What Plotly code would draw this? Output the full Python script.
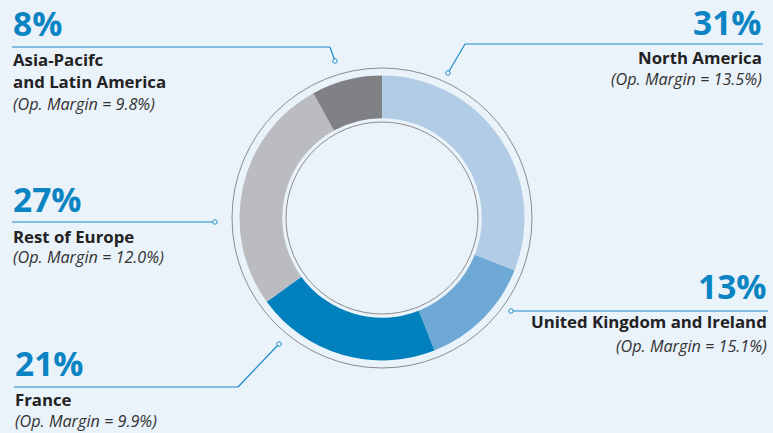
import plotly.graph_objects as go

W, H = 773, 433
regions = ["North America", "United Kingdom and Ireland", "France", "Rest of Europe", "Asia-Pacifc<br>and Latin America"]
shares = [31, 13, 21, 27, 8]
margins = [13.5, 15.1, 9.9, 12.0, 9.8]
colors = ["#b2cce6", "#6ea8d5", "#0081bd", "#bbbcc0", "#7f8185"]

BG = "#eaf2fa"
BLUE = "#0a84c2"
LINE = "#1a8ac8"
DARK = "#222222"
FONT = "Open Sans"

def px(x):
    return x / W

def py(y):
    return 1 - y / H

cx, cy, r_out = 382, 218, 142.5

fig = go.Figure(go.Pie(
    values=shares,
    labels=regions,
    marker=dict(colors=colors, line=dict(width=0)),
    hole=0.70,
    sort=False,
    direction="clockwise",
    rotation=0,
    textinfo="none",
    hoverinfo="label+percent",
    showlegend=False,
    domain=dict(x=[px(cx - r_out), px(cx + r_out)], y=[py(cy + r_out), py(cy - r_out)]),
))

shapes = []
for r in (150, 96):
    shapes.append(dict(type="circle", xref="paper", yref="paper",
                       x0=px(cx - r), x1=px(cx + r), y0=py(cy + r), y1=py(cy - r),
                       line=dict(color="#8c8c8c", width=1)))

leaders = [
    [(763, 44), (465, 44), (448, 73)],      # North America
    [(768, 311), (511, 311)],               # UK & Ireland
    [(14, 387), (238, 387), (279, 344)],    # France
    [(12, 222), (215, 222)],                # Rest of Europe
    [(12, 47), (330, 47), (335, 61)],       # Asia-Pacific
]
for pts in leaders:
    for (x0, y0), (x1, y1) in zip(pts[:-1], pts[1:]):
        shapes.append(dict(type="line", xref="paper", yref="paper",
                           x0=px(x0), y0=py(y0), x1=px(x1), y1=py(y1),
                           line=dict(color=LINE, width=1.2)))
    ex, ey = pts[-1]
    rr = 2.2
    shapes.append(dict(type="circle", xref="paper", yref="paper",
                       x0=px(ex - rr), x1=px(ex + rr), y0=py(ey + rr), y1=py(ey - rr),
                       fillcolor="white", line=dict(color=LINE, width=1)))

annotations = []

def txt(x, yc, text, size, color, anchor, bold=False, italic=False):
    annotations.append(dict(
        x=px(x), y=py(yc), xref="paper", yref="paper",
        xanchor=anchor, yanchor="middle", align=anchor, showarrow=False,
        text=text, borderpad=0,
        font=dict(family=FONT, size=size, color=color,
                  weight="bold" if bold else "normal",
                  style="italic" if italic else "normal"),
    ))

# (x, anchor, pct baseline, name baselines (first, last), italic baseline)
blocks = [
    (763, "right", 34, (64, 64), 85),
    (768, "right", 298, (328, 328), 352),
    (14, "left", 375, (406, 406), 427),
    (12, "left", 211, (243, 243), 263),
    (12, "left", 35, (67, 87), 109.5),
]
PS, NS, IS = 33.5, 16.8, 16.2
for i, (x, anc, pb, (nb0, nb1), ib) in enumerate(blocks):
    txt(x, pb - 0.36 * PS, f"{shares[i]}%", PS, BLUE, anc, bold=True)
    txt(x, (nb0 + nb1) / 2 - 0.36 * NS, regions[i], NS, DARK, anc, bold=True)
    txt(x, ib - 0.36 * IS, f"(Op. Margin = {margins[i]:.1f}%)", IS, "#333333", anc, italic=True)

fig.update_layout(
    width=W, height=H,
    margin=dict(l=0, r=0, t=0, b=0),
    paper_bgcolor=BG, plot_bgcolor=BG,
    shapes=shapes, annotations=annotations,
)

fig.write_html("out.html", config={"displayModeBar": False},
               post_script="document.body.style.margin='0';document.body.style.overflow='hidden';")
